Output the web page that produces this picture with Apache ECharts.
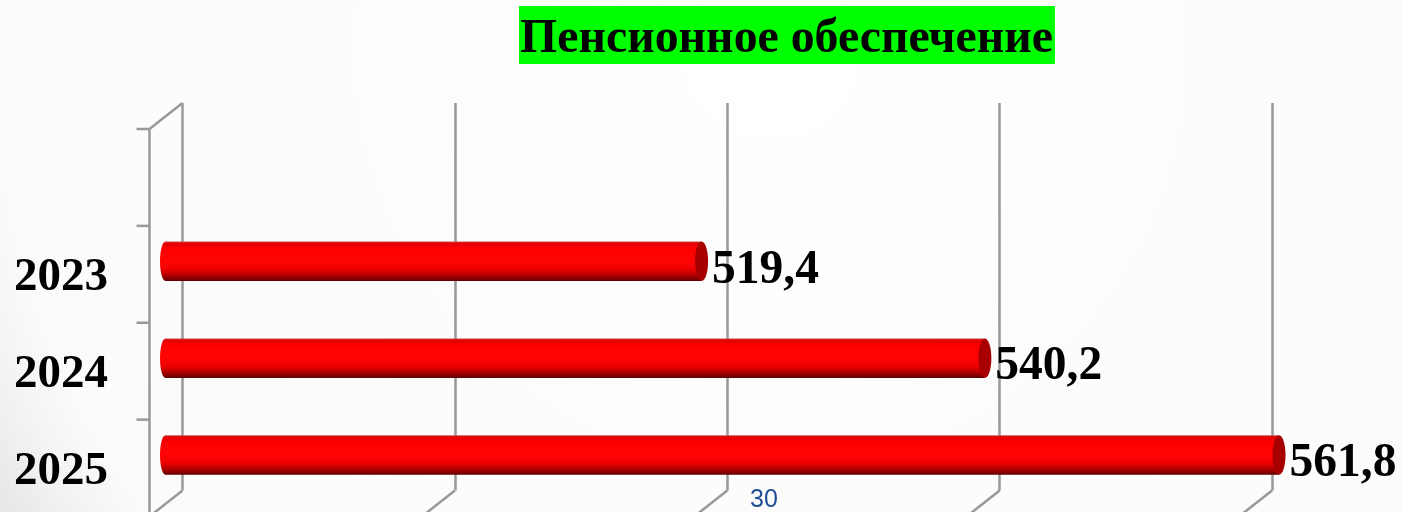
<!DOCTYPE html>
<html>
<head>
<meta charset="utf-8">
<style>
html, body { margin: 0; padding: 0; background: #fff; }
#chart1 { width: 1402px; height: 512px; }
</style>
<script src="https://cdn.jsdelivr.net/npm/echarts@6/dist/echarts.min.js"></script>
</head>
<body>
<div id="chart1"></div>
<script>
/* bar chart drawn as 3D tubes, back wall is the grid */
var titleText = 'Пенсионное обеспечение';
var pageNumber = '30';
var categories = ['', '2023', '2024', '2025'];
var values = [null, 519.4, 540.2, 561.8];
var xMin = 480;
var xMax = 560;
var xStep = 20;
var xTicks = [480, 500, 520, 540, 560];

var depthX = 33;
var depthY = 26;
var lineColor = '#999999';
var serif = '"Liberation Serif", "Times New Roman", serif';

var Bchart = echarts.init(document.getElementById('chart1'));

function line(x1, y1, x2, y2) {
    return {
        type: 'line',
        shape: { x1: x1, y1: y1, x2: x2, y2: y2 },
        style: { stroke: lineColor, lineWidth: 2.5 }
    };
}

function renderWall(params, api) {
    var c = api.coord([xMin, api.value(0)]);
    var band = api.size([0, 1])[1];
    var top = c[1] - band / 2 + depthY;
    var x = c[0] - depthX;
    var out = [line(x - 13, top, x, top)];
    if (params.dataIndex === 0) {
        out.push(line(x, top, x, top + band * categories.length));
        out.push(line(x, top, c[0], top - depthY));
    }
    return { type: 'group', children: out };
}

function renderFloor(params, api) {
    var p = api.coord([api.value(0), categories.length - 1]);
    var band = api.size([0, 1])[1];
    var y = p[1] + band / 2;
    return line(p[0], y, p[0] - depthX, y + depthY);
}

function renderTube(params, api) {
    var start = api.coord([xMin, api.value(1)]);
    var end = api.coord([api.value(0), api.value(1)]);
    var x0 = start[0] - 17;
    var x1 = end[0] - 17.5;
    var cy = start[1] + 13;
    var h = 39.5;
    var body = {
        type: 'linear', x: 0, y: 0, x2: 0, y2: 1,
        colorStops: [
            { offset: 0, color: '#c8504f' },
            { offset: 0.04, color: '#e00000' },
            { offset: 0.15, color: '#fa0000' },
            { offset: 0.5, color: '#ff0505' },
            { offset: 0.7, color: '#ee0000' },
            { offset: 0.86, color: '#b00000' },
            { offset: 1, color: '#5c0000' }
        ]
    };
    return {
        type: 'group',
        children: [
            { type: 'ellipse', shape: { cx: x0, cy: cy, rx: 5.5, ry: h / 2 }, style: { fill: body } },
            { type: 'rect', shape: { x: x0, y: cy - h / 2, width: x1 - x0, height: h }, style: { fill: body } },
            { type: 'ellipse', shape: { cx: x1, cy: cy, rx: 6.5, ry: h / 2 }, style: { fill: '#a80000' } },
            {
                type: 'text',
                style: {
                    x: x1 + 10.5, y: cy + 9,
                    text: String(api.value(0)).replace('.', ','),
                    font: 'bold 47.5px ' + serif,
                    fill: '#000',
                    align: 'left',
                    verticalAlign: 'middle'
                }
            }
        ]
    };
}

var Boption = {
    backgroundColor: {
        type: 'radial', x: 0.55, y: 0.1, r: 1.8,
        colorStops: [
            { offset: 0, color: '#ffffff' },
            { offset: 0.5, color: '#fcfcfc' },
            { offset: 0.84, color: '#fbfbfb' },
            { offset: 0.9, color: '#f3f3f3' },
            { offset: 1, color: '#e2e2e2' }
        ]
    },
    title: [
        {
            text: titleText,
            left: 519,
            top: 7,
            padding: [10, 2, 0, 1],
            backgroundColor: '#00ff00',
            textStyle: { color: '#000', fontFamily: serif, fontWeight: 'bold', fontSize: 47.8, lineHeight: 46 }
        },
        {
            text: pageNumber,
            left: 750,
            top: 488,
            padding: 0,
            textStyle: { color: '#1f4e96', fontFamily: '"Liberation Sans", Arial, sans-serif', fontWeight: 'normal', fontSize: 25 }
        }
    ],
    grid: { left: 182.5, right: 130, top: 103, height: 387.5 },
    xAxis: {
        type: 'value',
        min: xMin,
        max: xMax,
        interval: xStep,
        axisLine: { show: false },
        axisTick: { show: false },
        axisLabel: { show: false },
        splitLine: { show: true, lineStyle: { color: lineColor, width: 2.5 } }
    },
    yAxis: {
        type: 'category',
        inverse: true,
        data: categories,
        axisLine: { show: false },
        axisTick: { show: false },
        splitLine: { show: false },
        axisLabel: {
            margin: 74.5,
            verticalAlign: 'top',
            lineHeight: 60,
            color: '#000',
            fontFamily: serif,
            fontWeight: 'bold',
            fontSize: 47
        }
    },
    series: [
        {
            name: 'wall',
            type: 'custom',
            silent: true,
            renderItem: renderWall,
            encode: { y: 0 },
            data: categories.map(function (c, i) { return [i]; }),
            dimensions: ['cat']
        },
        {
            name: 'floor',
            type: 'custom',
            silent: true,
            renderItem: renderFloor,
            encode: { x: 0 },
            data: xTicks.map(function (t) { return [t]; })
        },
        {
            name: 'Пенсионное обеспечение',
            type: 'custom',
            renderItem: renderTube,
            encode: { x: 0, y: 1 },
            data: values.map(function (v, i) { return v === null ? null : [v, i]; }).filter(Boolean)
        }
    ]
};

Bchart.setOption(Boption);
</script>
</body>
</html>
